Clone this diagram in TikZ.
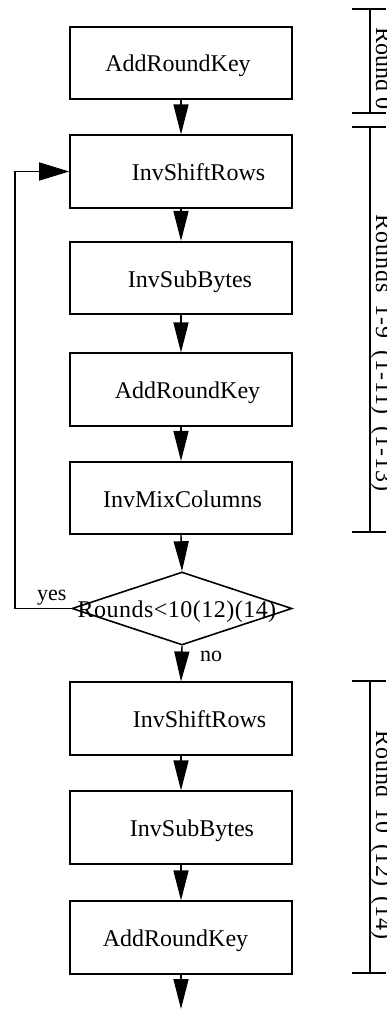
\documentclass[tikz,border=0pt]{standalone}
\usepackage{fontspec}
\setmainfont{Liberation Serif}
\usetikzlibrary{arrows.meta,shapes.geometric}
\begin{document}
\begin{tikzpicture}[x=1pt,y=-1pt,
  box/.style={draw,line width=1.6pt,minimum width=222pt,minimum height=72.5pt,inner sep=0pt,
    text height=20pt,text depth=2pt,font=\fontsize{24}{28}\selectfont},
  flow/.style={line width=1.4pt,-{Triangle[length=30pt,width=15pt]}},
  loopflow/.style={line width=1.4pt,-{Triangle[length=30pt,width=18pt]}},
  lbl/.style={inner sep=0pt,anchor=base west,font=\fontsize{22}{26}\selectfont},
  brk/.style={line width=1.6pt},
  rot/.style={rotate=-90,anchor=base,inner sep=0pt,font=\fontsize{24}{28}\selectfont}]
\useasboundingbox (0,0) rectangle (386,1011);

% upper chain
\node[box] (b1) at (181,63)    {\hspace*{-6pt}AddRoundKey};
\node[box] (b2) at (181,171.5) {\hspace*{35pt}InvShiftRows};
\node[box] (b3) at (181,278)   {\hspace*{18pt}InvSubBytes};
\node[box] (b4) at (181,389.5) {\hspace*{13pt}AddRoundKey};
\node[box] (b5) at (181,498)   {\hspace*{3pt}InvMixColumns};

% decision
\node[diamond,draw,line width=1.6pt,minimum width=220pt,minimum height=73pt,inner sep=0pt] (dec) at (182,608.5) {};
\node[inner sep=0pt,text height=20pt,text depth=2pt,font=\fontsize{24}{28}\selectfont] (dtext) at (177,608.5)
  {\addfontfeature{LetterSpace=2}Rounds<10(12)(14)};

% lower chain
\node[box] (b6) at (181,718.5) {\hspace*{37pt}InvShiftRows};
\node[box] (b7) at (181,827.5) {\hspace*{22pt}InvSubBytes};
\node[box] (b8) at (181,937.5) {\hspace*{-11pt}AddRoundKey};

\coordinate (lp) at (15,608.5);
\coordinate (fin) at (181,1009);

% connectors
\draw[flow] (b1.south) -- (b2.north);
\draw[flow] (b2.south) -- (b3.north);
\draw[flow] (b3.south) -- (b4.north);
\draw[flow] (b4.south) -- (b5.north);
\draw[flow] (b5.south) -- (dec.north);
\draw[flow] (dec.south) -- (b6.north);
\draw[flow] (b6.south) -- (b7.north);
\draw[flow] (b7.south) -- (b8.north);
\draw[flow] (b8.south) -- (fin);
\draw[loopflow] (dec.west) -- (lp) |- (b2.west);

\node[lbl] (yes) at (37,600) {yes};
\node[lbl] (no) at (200,661) {no};

% brackets
\draw[brk] (352,9) -- (386,9) (370,9) -- (370,113) (352,113) -- (386,113);
\draw[brk] (352,127) -- (386,127) (370,127) -- (370,532) (352,532) -- (386,532);
\draw[brk] (352,681) -- (386,681) (370,681) -- (370,973) (352,973) -- (386,973);

\begin{scope}
\clip (0,0) rectangle (386,1011);
\node[rot] (r0) at (376,68.5) {Round 0};
\node[rot] (r1) at (376,353) {\addfontfeature{LetterSpace=4}Rounds\hspace{0.5em}1-9\hspace{0.5em}(1-11)\hspace{0.5em}(1-13)};
\node[rot] (r2) at (376,835) {\addfontfeature{LetterSpace=3}Round\hspace{0.45em}10\hspace{0.45em}(12)\hspace{0.45em}(14)};
\end{scope}
\end{tikzpicture}
\end{document}
